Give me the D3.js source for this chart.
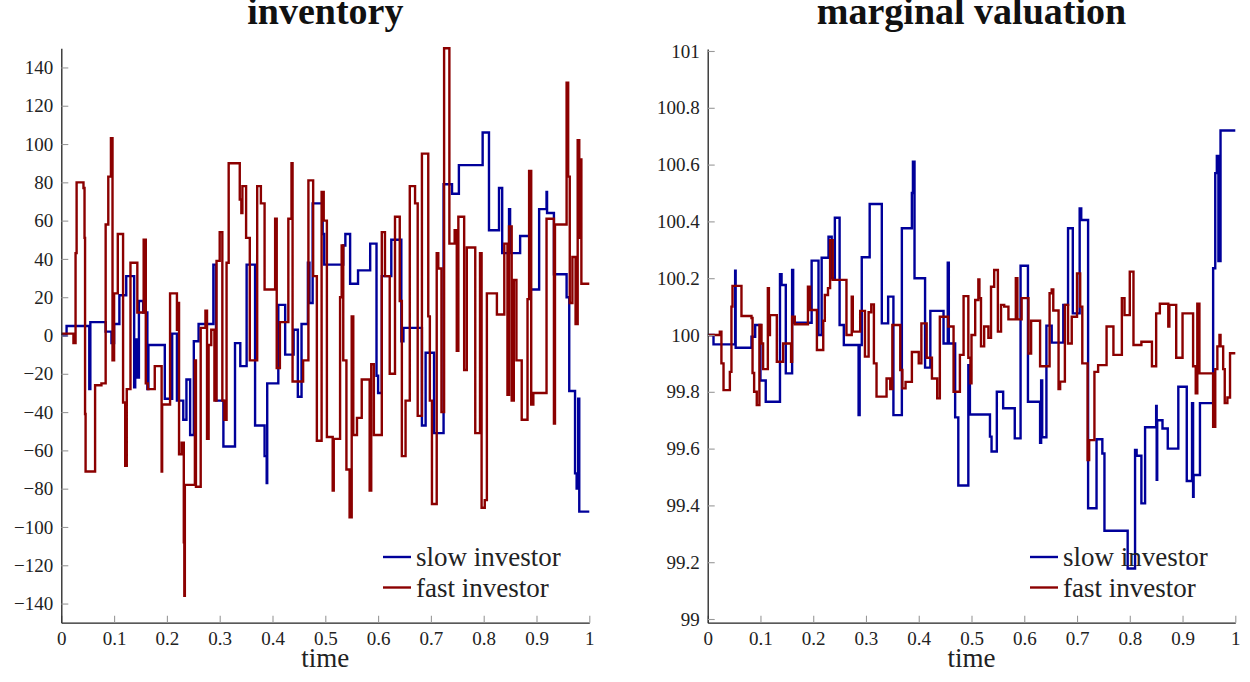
<!DOCTYPE html>
<html>
<head>
<meta charset="utf-8">
<script src="https://cdn.jsdelivr.net/npm/d3@7"></script>
<style>
  body { margin: 0; background: #fff; }
  svg { display: block; }
  svg text { font-family: "Liberation Serif", "DejaVu Serif", serif; }
</style>
</head>
<body>
<svg id="chart" width="1250" height="682"></svg>
<script>
// time ticks shared by both panels
var timeTicks = [0, 0.1, 0.2, 0.3, 0.4, 0.5, 0.6, 0.7, 0.8, 0.9, 1];
var inventoryTicks = [-140, -120, -100, -80, -60, -40, -20, 0, 20, 40, 60, 80, 100, 120, 140];
var valuationTicks = [99, 99.2, 99.4, 99.6, 99.8, 100, 100.2, 100.4, 100.6, 100.8, 101];
var seriesNames = ["slow investor", "fast investor"];
var seriesColors = ["#00009a", "#8b0000"];

// [time, inventory] step points
var slowInventory = [
  [0, 0], [0.01, 5], [0.053, -28], [0.055, 7], [0.084, 2], [0.095, -4], [0.1, 6], [0.11, 21],
  [0.123, 31], [0.138, -27], [0.14, -2], [0.143, -22], [0.147, 18], [0.155, 12], [0.163, -28],
  [0.165, -5], [0.196, -33], [0.21, 1], [0.219, -34], [0.231, -44], [0.237, -23], [0.244, -52],
  [0.251, -3], [0.26, 6], [0.288, 37], [0.293, -34], [0.307, -58], [0.329, -4], [0.339, -16],
  [0.351, 37], [0.367, -47], [0.385, -63], [0.389, -77], [0.39, -25], [0.411, 16], [0.424, -10],
  [0.44, 3], [0.448, -32], [0.455, 6], [0.467, 38], [0.47, 17], [0.476, 69], [0.495, 53],
  [0.498, 37], [0.534, 47], [0.538, 53], [0.547, 27], [0.562, 34], [0.585, 48], [0.597, -21],
  [0.6, -30], [0.607, 31], [0.625, 50], [0.644, -3], [0.648, 4], [0.683, -47], [0.69, -9],
  [0.706, -51], [0.724, 79], [0.74, 74], [0.753, 89], [0.798, 106], [0.81, 55], [0.829, 77],
  [0.835, 43], [0.848, 66], [0.85, 43], [0.869, 52], [0.889, 24], [0.905, 66], [0.919, 75],
  [0.92, 64], [0.933, 32], [0.957, 20], [0.962, -29], [0.973, -72], [0.976, -80], [0.979, -33],
  [0.981, -92], [1, -92]
];
var fastInventory = [
  [0, 1], [0.023, -4], [0.027, 43], [0.029, 80], [0.042, 77], [0.044, 51], [0.045, -41],
  [0.046, -71], [0.064, -26], [0.076, -25], [0.084, 58], [0.089, 83], [0.094, 103], [0.097, -13],
  [0.1, 22], [0.107, 53], [0.117, -35], [0.121, -68], [0.124, -28], [0.131, 38], [0.144, 12],
  [0.156, 50], [0.16, -25], [0.164, -28], [0.177, -16], [0.19, -71], [0.191, -36], [0.206, 22],
  [0.219, 3], [0.221, 17], [0.223, -62], [0.228, -56], [0.232, -108], [0.233, -136], [0.234, -78],
  [0.253, -13], [0.255, -79], [0.264, 4], [0.273, 13], [0.276, -54], [0.279, -5], [0.284, 3],
  [0.29, -34], [0.294, 39], [0.3, 54], [0.305, -34], [0.309, -44], [0.313, 38], [0.317, 90],
  [0.338, 71], [0.341, 64], [0.343, 78], [0.35, 51], [0.357, -13], [0.371, 78], [0.378, 69],
  [0.385, 24], [0.405, 61], [0.408, -17], [0.414, 7], [0.43, 61], [0.436, 90], [0.438, -24],
  [0.458, -13], [0.468, 81], [0.477, 31], [0.484, -55], [0.493, 75], [0.497, 60], [0.503, -53],
  [0.514, -81], [0.516, -54], [0.528, 20], [0.531, 47], [0.534, -13], [0.54, -70], [0.546, -95],
  [0.55, 10], [0.553, -52], [0.56, -43], [0.569, -23], [0.584, -81], [0.587, -15], [0.592, -52],
  [0.607, 54], [0.613, 31], [0.622, -20], [0.632, 62], [0.641, 18], [0.645, -63], [0.652, -34],
  [0.66, 78], [0.67, 69], [0.675, -42], [0.683, 95], [0.695, 10], [0.698, -34], [0.702, -88],
  [0.711, 43], [0.714, 35], [0.72, -40], [0.725, 150], [0.735, 48], [0.745, 55], [0.749, -8],
  [0.752, 62], [0.763, -18], [0.768, 46], [0.784, -51], [0.793, 43], [0.796, -90], [0.802, -86],
  [0.806, 22], [0.825, 11], [0.839, 48], [0.845, -31], [0.848, 57], [0.853, -34], [0.857, 29],
  [0.862, -13], [0.872, -44], [0.883, 19], [0.886, 86], [0.89, -36], [0.894, -30], [0.919, 61],
  [0.933, -46], [0.935, 58], [0.957, 132], [0.96, 83], [0.963, 17], [0.968, 41], [0.974, 6],
  [0.978, 102], [0.981, 51], [0.983, 92], [0.985, 27], [1, 27]
];

// [time, marginal valuation] step points
var slowValuation = [
  [0, 100], [0.011, 99.967], [0.052, 100.226], [0.053, 99.955], [0.083, 99.994], [0.09, 100.035],
  [0.1, 99.84], [0.11, 99.765], [0.137, 100.214], [0.14, 100.176], [0.148, 99.865], [0.16, 100.229],
  [0.162, 100.043], [0.197, 100.262], [0.21, 100], [0.216, 100.272], [0.229, 100.346], [0.235, 100.2],
  [0.241, 100.413], [0.25, 100.035], [0.258, 99.965], [0.286, 99.718], [0.288, 99.965],
  [0.292, 100.274], [0.307, 100.461], [0.33, 100.041], [0.342, 100.135], [0.352, 99.718],
  [0.368, 100.376], [0.387, 100.5], [0.389, 100.61], [0.392, 100.2], [0.412, 99.885], [0.422, 100.085],
  [0.447, 99.97], [0.455, 100.255], [0.457, 99.97], [0.469, 99.71], [0.475, 99.47], [0.494, 99.894],
  [0.497, 99.72], [0.535, 99.642], [0.538, 99.59], [0.548, 99.8], [0.56, 99.742], [0.582, 99.636],
  [0.593, 100.244], [0.607, 99.765], [0.63, 99.62], [0.632, 99.84], [0.634, 99.64], [0.642, 100.033],
  [0.652, 99.973], [0.674, 100.106], [0.683, 100.376], [0.692, 100.076], [0.705, 100.446],
  [0.708, 100.405], [0.721, 99.39], [0.737, 99.633], [0.748, 99.583], [0.752, 99.311],
  [0.796, 99.178], [0.81, 99.595], [0.813, 99.575], [0.822, 99.407], [0.829, 99.675], [0.85, 99.75],
  [0.851, 99.49], [0.852, 99.7], [0.862, 99.671], [0.872, 99.6], [0.892, 99.818], [0.908, 99.486],
  [0.918, 99.76], [0.92, 99.43], [0.921, 99.507], [0.933, 99.76], [0.958, 100.235], [0.962, 100.57],
  [0.965, 100.63], [0.968, 100.26], [0.972, 100.72], [1, 100.72]
];
var fastValuation = [
  [0, 100], [0.023, 100.012], [0.026, 99.9], [0.03, 99.806], [0.042, 99.87], [0.045, 100.1],
  [0.047, 100.173], [0.064, 100.067], [0.083, 100.06], [0.085, 99.866], [0.088, 99.8], [0.093, 99.753],
  [0.098, 100.035], [0.102, 99.97], [0.105, 99.88], [0.114, 100.165], [0.116, 100], [0.118, 100.07],
  [0.131, 99.906], [0.143, 99.97], [0.158, 99.906], [0.16, 100.064], [0.165, 100.038], [0.19, 100.17],
  [0.194, 100.088], [0.207, 99.947], [0.219, 100.05], [0.222, 100.141], [0.228, 100.165],
  [0.232, 100.334], [0.237, 100.194], [0.263, 100], [0.273, 100.135], [0.275, 100.012],
  [0.289, 100.085], [0.298, 99.924], [0.305, 100.08], [0.31, 100.108], [0.315, 99.9], [0.32, 99.783],
  [0.339, 99.847], [0.346, 99.81], [0.35, 100.035], [0.365, 99.877], [0.369, 99.812], [0.375, 99.835],
  [0.387, 99.94], [0.4, 99.9], [0.405, 100.041], [0.415, 99.92], [0.425, 99.847], [0.435, 99.777],
  [0.44, 100.064], [0.456, 100.03], [0.466, 99.8], [0.478, 99.93], [0.485, 100.137], [0.494, 99.92],
  [0.498, 99.83], [0.5, 100], [0.507, 100.123], [0.513, 100.196], [0.515, 100.13], [0.518, 99.96],
  [0.524, 100.03], [0.532, 99.99], [0.537, 100.17], [0.543, 100.229], [0.55, 100.012], [0.556, 100.106],
  [0.562, 100.1], [0.57, 100.055], [0.584, 100.2], [0.587, 100.055], [0.595, 100.13], [0.608, 99.935],
  [0.613, 100.05], [0.63, 99.89], [0.648, 100.147], [0.652, 100.16], [0.655, 100.086], [0.665, 99.81],
  [0.668, 99.836], [0.677, 100.106], [0.683, 99.97], [0.69, 100.064], [0.7, 100.217], [0.706, 100.1],
  [0.71, 99.9], [0.72, 99.56], [0.723, 99.63], [0.733, 99.87], [0.74, 99.894], [0.756, 100.03],
  [0.769, 99.93], [0.785, 100.13], [0.79, 100.07], [0.8, 100.223], [0.807, 99.965], [0.822, 99.976],
  [0.842, 99.89], [0.85, 100.076], [0.857, 100.11], [0.873, 100.03], [0.875, 100.106], [0.888, 99.92],
  [0.9, 100.076], [0.92, 99.89], [0.925, 99.795], [0.928, 100.11], [0.932, 99.865], [0.958, 99.677],
  [0.962, 99.88], [0.966, 99.96], [0.97, 100], [0.972, 99.96], [0.977, 99.88], [0.98, 99.76],
  [0.985, 99.78], [0.99, 99.936], [1, 99.936]
];

var svg = d3.select("#chart");

function drawPanel(opts) {
  var x = d3.scaleLinear().domain([0, 1]).range([opts.left, opts.right]);
  var y = d3.scaleLinear().domain(opts.yDomain).range([opts.bottom, opts.top]);
  var g = svg.append("g");

  g.append("clipPath").attr("id", opts.id + "-clip")
    .append("rect")
    .attr("x", opts.left).attr("y", opts.top - 2)
    .attr("width", opts.right - opts.left + 2).attr("height", opts.bottom - opts.top + 2);

  var line = d3.line()
    .curve(d3.curveStepAfter)
    .x(function(d) { return x(d[0]); })
    .y(function(d) { return y(d[1]); });

  // slow first, fast on top
  opts.series.forEach(function(s, i) {
    g.append("path")
      .datum(s)
      .attr("clip-path", "url(#" + opts.id + "-clip)")
      .attr("fill", "none")
      .attr("stroke", seriesColors[i])
      .attr("stroke-width", 2.4)
      .attr("d", line);
  });

  var xAxis = g.append("g")
    .attr("transform", "translate(0," + opts.bottom + ")")
    .call(d3.axisBottom(x).tickValues(timeTicks).tickFormat(function(d) { return String(d); })
      .tickSizeInner(-7).tickSizeOuter(0).tickPadding(9));
  var yAxis = g.append("g")
    .attr("transform", "translate(" + opts.left + ",0)")
    .call(d3.axisLeft(y).tickValues(opts.yTicks).tickFormat(opts.yFormat)
      .tickSizeInner(-7).tickSizeOuter(0).tickPadding(8));

  [xAxis, yAxis].forEach(function(a) {
    // drop d3's default sans-serif attributes
    a.attr("font-family", null).attr("font-size", null);
    a.select(".domain").attr("stroke", "#222").attr("stroke-width", 1.3);
    a.selectAll(".tick line").attr("stroke", "#999").attr("stroke-width", 1.1);
    a.selectAll(".tick text")
      .attr("fill", "#222")
      .style("font-size", "19px");
  });

  var mid = (opts.left + opts.right) / 2;
  g.append("text")
    .attr("x", mid).attr("y", 24)
    .attr("text-anchor", "middle")
    .style("font-size", "38px")
    .style("font-weight", "bold")
    .attr("fill", "#111")
    .text(opts.title);

  g.append("text")
    .attr("x", mid).attr("y", 667)
    .attr("text-anchor", "middle")
    .style("font-size", "27px")
    .attr("fill", "#222")
    .text("time");

  // legend
  seriesNames.forEach(function(name, i) {
    var ly = 557 + i * 30.5;
    g.append("line")
      .attr("x1", opts.legendX).attr("x2", opts.legendX + 28)
      .attr("y1", ly).attr("y2", ly)
      .attr("stroke", seriesColors[i]).attr("stroke-width", 2.4);
    g.append("text")
      .attr("x", opts.legendX + 33).attr("y", ly + 9)
      .style("font-size", "27px")
      .attr("fill", "#222")
      .text(name);
  });
}

drawPanel({
  id: "inv", title: "inventory",
  left: 61.3, right: 589.3, top: 48.3, bottom: 622.7,
  yDomain: [-150, 150], yTicks: inventoryTicks,
  yFormat: d3.format("d"),
  series: [slowInventory, fastInventory],
  legendX: 383
});

drawPanel({
  id: "val", title: "marginal valuation",
  left: 707.7, right: 1235.3, top: 49, bottom: 622.7,
  yDomain: [98.987, 101.007], yTicks: valuationTicks,
  yFormat: function(d) { return String(+d.toFixed(1)); },
  series: [slowValuation, fastValuation],
  legendX: 1030
});
</script>
</body>
</html>
